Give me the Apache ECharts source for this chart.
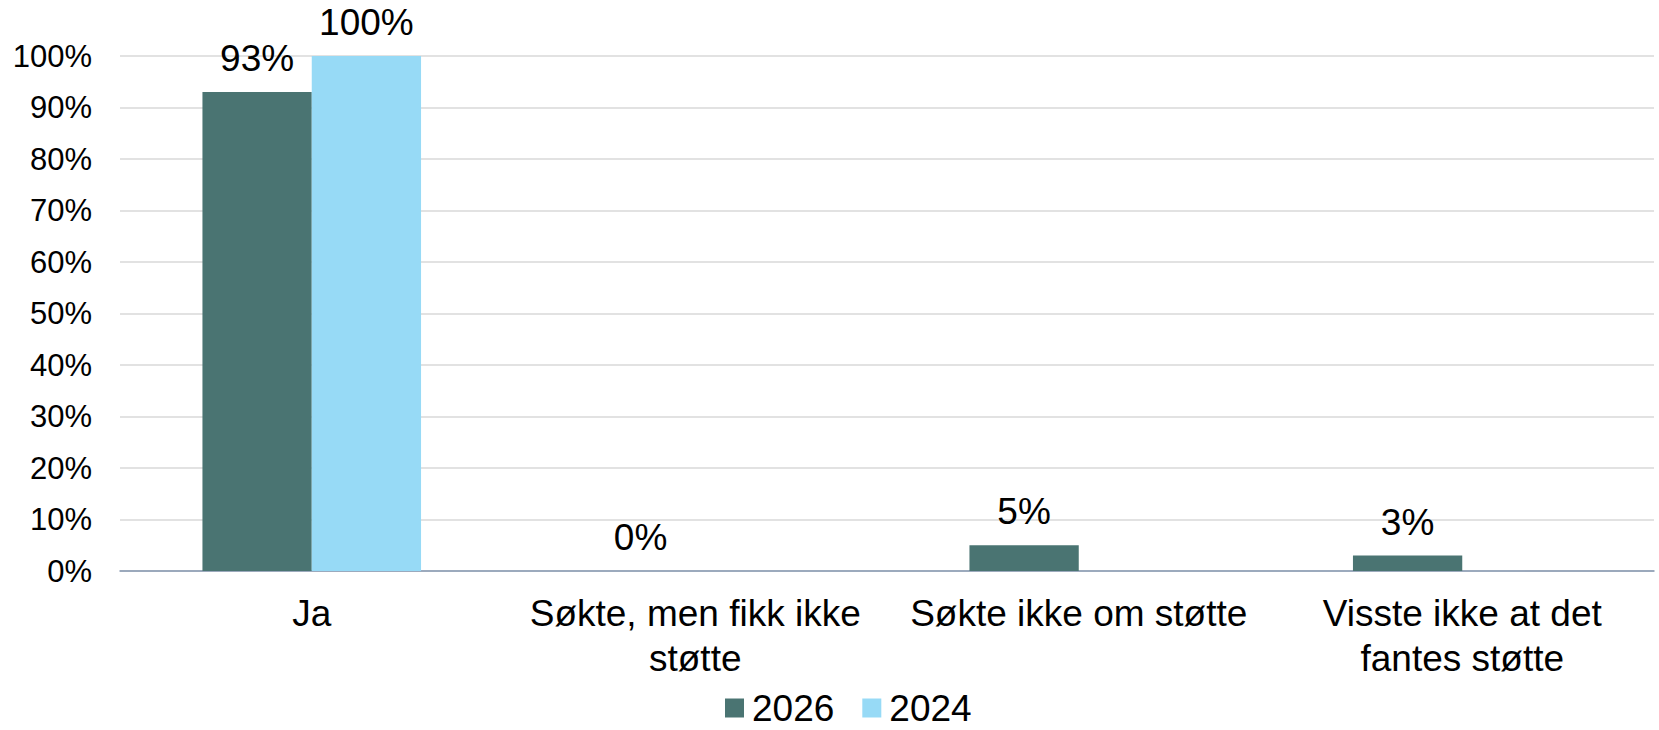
<!DOCTYPE html>
<html lang="no">
<head>
    <meta charset="UTF-8">
    <title>Støtte</title>
    <script type="text/javascript" src="https://cdn.jsdelivr.net/npm/echarts@6/dist/echarts.min.js"></script>
    <style>
        html, body {margin: 0; padding: 0; background: #fff;}
        #chart {width: 1659px; height: 730px;}
    </style>
</head>
<body>
<div id="chart"></div>
<script>
    // kategorier og verdier (prosent)
    var categories = ['Ja', 'Søkte, men fikk ikke\nstøtte', 'Søkte ikke om støtte', 'Visste ikke at det\nfantes støtte'];
    var seriesNames = ['2026', '2024'];
    var values2026 = [93, 0, 5, 3];
    var values2024 = [100, null, null, null];
    var yTicks = {min: 0, max: 100, interval: 10};

    var font = 'Liberation Sans, Arial, sans-serif';

    var chart = echarts.init(document.getElementById('chart'), null, {renderer: 'svg'});
    chart.setOption({
        animation: false,
        textStyle: {fontFamily: font},
        grid: {left: 120, right: 5, top: 56, bottom: 159},
        legend: {
            data: seriesNames,
            left: 725,
            bottom: 2,
            padding: 0,
            itemWidth: 19,
            itemHeight: 19,
            itemGap: 28,
            icon: 'rect',
            textStyle: {fontSize: 37, lineHeight: 40, color: '#000', fontFamily: font, padding: [0, 0, 0, 3]}
        },
        xAxis: {
            type: 'category',
            data: categories,
            axisLine: {lineStyle: {color: '#8497b0', width: 1.5}},
            axisTick: {show: false},
            axisLabel: {
                interval: 0,
                fontSize: 37,
                color: '#000',
                margin: 20,
                lineHeight: 45,
                fontFamily: font
            }
        },
        yAxis: {
            type: 'value',
            min: yTicks.min,
            max: yTicks.max,
            interval: yTicks.interval,
            axisLine: {show: false},
            axisTick: {show: false},
            splitLine: {lineStyle: {color: '#d9d9d9', width: 1.5}},
            axisLabel: {
                formatter: '{value}%',
                fontSize: 31,
                color: '#000',
                margin: 28,
                fontFamily: font
            }
        },
        series: [
            {
                name: seriesNames[0],
                type: 'bar',
                data: values2026,
                barGap: '0%',
                barCategoryGap: '43%',
                itemStyle: {color: '#4a7472'},
                label: {
                    show: true,
                    position: 'top',
                    distance: 15,
                    formatter: '{c}%',
                    fontSize: 37,
                    color: '#000',
                    fontFamily: font
                }
            },
            {
                name: seriesNames[1],
                type: 'bar',
                data: values2024,
                barGap: '0%',
                barCategoryGap: '43%',
                itemStyle: {color: '#97daf6'},
                label: {
                    show: true,
                    position: 'top',
                    distance: 15,
                    formatter: '{c}%',
                    fontSize: 37,
                    color: '#000',
                    fontFamily: font
                }
            }
        ]
    });
</script>
</body>
</html>
